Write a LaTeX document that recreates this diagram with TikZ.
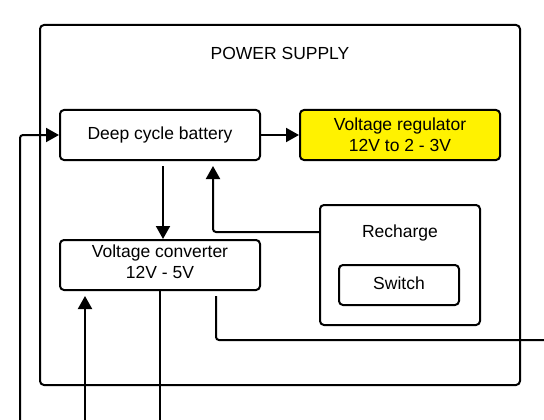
\documentclass[tikz,border=0pt]{standalone}
\usepackage{fontspec}
\setmainfont{Liberation Sans}
\usetikzlibrary{arrows.meta}
\definecolor{regyellow}{RGB}{255,242,0}
\tikzset{
  box/.style={draw=black, line width=2pt, rounded corners=4pt, align=center, inner sep=0pt},
  lbl/.style={font=\fontsize{17.5}{21}\selectfont, align=center, inner sep=0pt},
  wire/.style={line width=2pt, rounded corners=3pt},
  arr/.style={wire, -{Triangle[length=13pt,width=14pt]}}
}
\begin{document}
\begin{tikzpicture}[x=1pt,y=-1pt]
\useasboundingbox (0,0) rectangle (544,420);
\node[box, minimum width=480pt, minimum height=360pt] (ps) at (280,205) {};
\node[lbl] (title) at (280,53) {POWER SUPPLY};
\node[box, lbl, minimum width=200pt, minimum height=50pt] (bat) at (160,135) {Deep cycle battery};
\node[box, lbl, fill=regyellow, minimum width=200pt, minimum height=50pt] (reg) at (400,135) {Voltage regulator\\12V to 2 - 3V};
\node[box, minimum width=200pt, minimum height=50pt] (conv) at (160,265) {};
\node[lbl] (convt) at (160,262) {Voltage converter\\12V - 5V};
\node[box, minimum width=160pt, minimum height=120pt] (rech) at (400,265) {};
\node[lbl] (recht) at (400,233) {Recharge};
\node[box, minimum width=120pt, minimum height=40pt] (sw) at (399,285) {};
\node[lbl] (swt) at (399,283) {Switch};
\coordinate (inA) at (20,420);
\coordinate (inB) at (85,420);
\coordinate (outC) at (160,420);
\coordinate (outD) at (544,340);
\draw[arr] (bat.east) -- (reg.west);
\draw[arr] ([xshift=3pt,yshift=-5pt]bat.south) -- ([xshift=3pt]conv.north);
\draw[arr] ([yshift=33pt]rech.west) -| ([xshift=53pt,yshift=-5pt]bat.south);
\draw[arr] (inA) |- (bat.west);
\draw[arr] (inB) -- ([xshift=-75pt,yshift=-5pt]conv.south);
\draw[wire] (conv.south) -- (outC);
\draw[wire] ([xshift=56pt,yshift=-5pt]conv.south) |- (outD);
\end{tikzpicture}
\end{document}
